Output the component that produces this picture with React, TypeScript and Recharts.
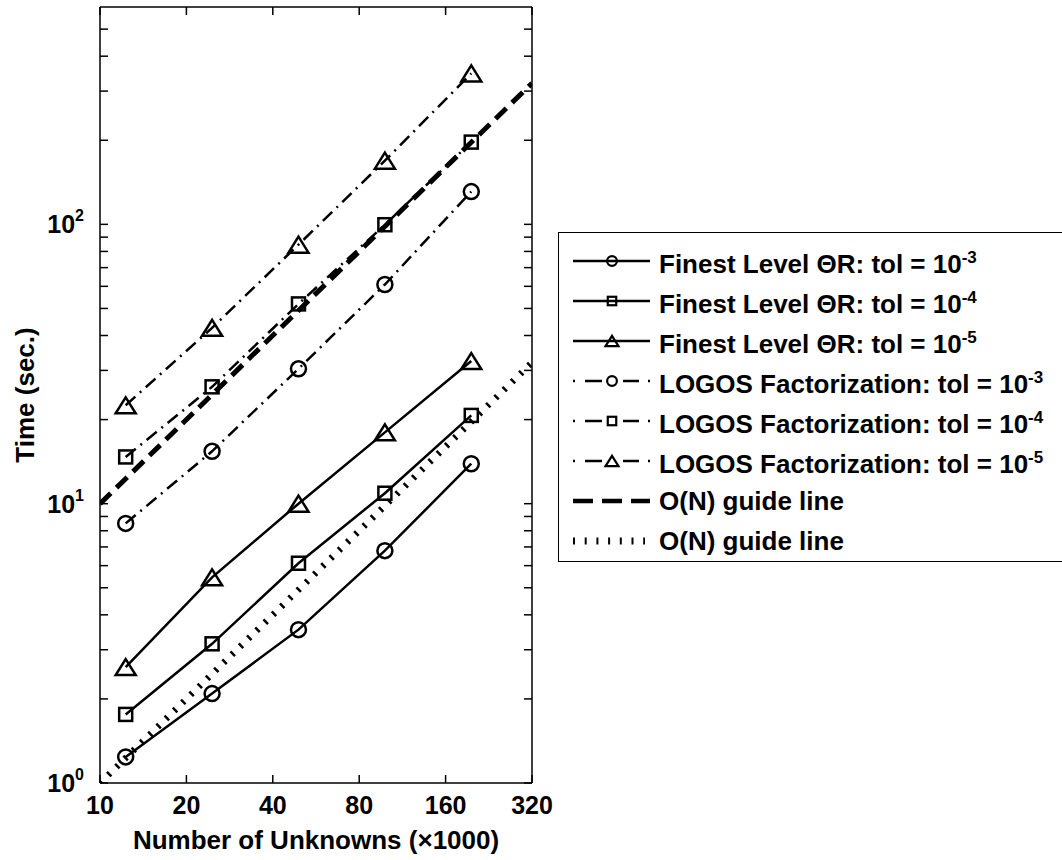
import React from "react";
import { LineChart, Line, XAxis, YAxis, Legend } from "recharts";

// problem size (x1000 unknowns)
const N = [12.288, 24.576, 49.152, 98.304, 196.608];

// times in seconds
const FINEST_TOL3 = [1.24, 2.09, 3.54, 6.79, 13.9];
const FINEST_TOL4 = [1.76, 3.15, 6.12, 10.9, 20.7];
const FINEST_TOL5 = [2.6, 5.45, 10.0, 18.0, 32.4];
const LOGOS_TOL3 = [8.5, 15.4, 30.4, 60.9, 131];
const LOGOS_TOL4 = [14.7, 26.2, 51.9, 99.7, 197];
const LOGOS_TOL5 = [22.5, 42.6, 84.6, 169, 347];

// O(N) guide lines
const GUIDE_N = [10, 320];
const GUIDE_DASHED = [10, 320];
const GUIDE_DOTTED = [1, 32];

const X_TICKS = [10, 20, 40, 80, 160, 320];
const Y_TICKS = [
  1, 2, 3, 4, 5, 6, 7, 8, 9, 10, 20, 30, 40, 50, 60, 70, 80, 90, 100, 200, 300,
  400, 500,
];
const Y_DECADES: Record<number, string> = { 1: "0", 10: "1", 100: "2" };

const FONT = '"Liberation Sans", Arial, Helvetica, sans-serif';
const INK = "#000";
const DASH_DOT = "13 6 2 6";
const LW = 2.5;

type Shape = "circle" | "square" | "triangle";

const SERIES = [
  { key: "f3", values: FINEST_TOL3, label: "Finest Level \u0398R: tol = 10", sup: "-3", shape: "circle" as Shape, dashed: false },
  { key: "f4", values: FINEST_TOL4, label: "Finest Level \u0398R: tol = 10", sup: "-4", shape: "square" as Shape, dashed: false },
  { key: "f5", values: FINEST_TOL5, label: "Finest Level \u0398R: tol = 10", sup: "-5", shape: "triangle" as Shape, dashed: false },
  { key: "l3", values: LOGOS_TOL3, label: "LOGOS Factorization: tol = 10", sup: "-3", shape: "circle" as Shape, dashed: true },
  { key: "l4", values: LOGOS_TOL4, label: "LOGOS Factorization: tol = 10", sup: "-4", shape: "square" as Shape, dashed: true },
  { key: "l5", values: LOGOS_TOL5, label: "LOGOS Factorization: tol = 10", sup: "-5", shape: "triangle" as Shape, dashed: true },
];

const rows: Record<string, number>[] = [
  ...GUIDE_N.map((n, i) => ({ n, gDash: GUIDE_DASHED[i], gDot: GUIDE_DOTTED[i] })),
  ...N.map((n, i) => {
    const r: Record<string, number> = { n };
    SERIES.forEach((s) => (r[s.key] = s.values[i]));
    return r;
  }),
].sort((a, b) => a.n - b.n);

const W = 1062;
const H = 860;
const PLOT_LEFT = 100;
const PLOT_RIGHT = 532;
const PLOT_TOP = 7;
const PLOT_BOTTOM = 783;
const TICK_LEN = 8;

function Marker({ shape, cx, cy, s = 1, sw = LW }: { shape: Shape; cx: number; cy: number; s?: number; sw?: number }) {
  const common = { fill: "none", stroke: INK, strokeWidth: sw };
  if (shape === "circle") return <circle cx={cx} cy={cy} r={7.5 * s} {...common} />;
  if (shape === "square") {
    const h = 6.5 * s;
    return <rect x={cx - h} y={cy - h} width={2 * h} height={2 * h} {...common} />;
  }
  const hw = 10 * s;
  const hh = 8 * s;
  return (
    <polygon
      points={`${cx},${cy - hh} ${cx + hw},${cy + hh} ${cx - hw},${cy + hh}`}
      {...common}
      strokeLinejoin="miter"
    />
  );
}

const dotFor = (shape: Shape, key: string) => (p: any) => {
  if (p.cx == null || p.cy == null || p.value == null)
    return <g key={`${key}-${p.index}`} />;
  return (
    <g key={`${key}-${p.index}`}>
      <Marker shape={shape} cx={p.cx} cy={p.cy} />
    </g>
  );
};

const XTickBottom = (p: any) => (
  <g>
    <line x1={p.x} y1={p.y} x2={p.x} y2={p.y - TICK_LEN} stroke={INK} strokeWidth={1.5} />
    <text x={p.x} y={p.y + 31} textAnchor="middle" fontFamily={FONT} fontWeight={700} fontSize={25} fill={INK}>
      {p.payload.value}
    </text>
  </g>
);

const XTickTop = (p: any) => (
  <line x1={p.x} y1={p.y} x2={p.x} y2={p.y + TICK_LEN} stroke={INK} strokeWidth={1.5} />
);

const YTickLeft = (p: any) => {
  const exp = Y_DECADES[p.payload.value];
  return (
    <g>
      <line x1={p.x} y1={p.y} x2={p.x + TICK_LEN} y2={p.y} stroke={INK} strokeWidth={1.5} />
      {exp !== undefined && (
        <text x={p.x - 16} y={p.y + 9} textAnchor="end" fontFamily={FONT} fontWeight={700} fontSize={25} fill={INK}>
          10
          <tspan dy={-12} fontSize={16}>
            {exp}
          </tspan>
        </text>
      )}
    </g>
  );
};

const YTickRight = (p: any) => (
  <line x1={p.x} y1={p.y} x2={p.x - TICK_LEN} y2={p.y} stroke={INK} strokeWidth={1.5} />
);

type Sample = "solid" | "dashdot" | "dashed" | "dotted";

const LEGEND_ROWS: { sample: Sample; shape?: Shape; label: string; sup?: string }[] = [
  ...SERIES.map((s) => ({
    sample: (s.dashed ? "dashdot" : "solid") as Sample,
    shape: s.shape,
    label: s.label,
    sup: s.sup,
  })),
  { sample: "dashed", label: "O(N) guide line" },
  { sample: "dotted", label: "O(N) guide line" },
];

function SampleSvg({ sample, shape }: { sample: Sample; shape?: Shape }) {
  const y = 15;
  return (
    <svg width={78} height={30} style={{ flex: "none", overflow: "visible" }}>
      {sample === "solid" && <line x1={0} y1={y} x2={77} y2={y} stroke={INK} strokeWidth={LW} />}
      {sample === "dashdot" && (
        <g stroke={INK} strokeWidth={LW}>
          <line x1={0} y1={y} x2={2} y2={y} />
          <line x1={12} y1={y} x2={29} y2={y} />
          <line x1={50} y1={y} x2={66} y2={y} />
          <line x1={75} y1={y} x2={77} y2={y} />
        </g>
      )}
      {sample === "dashed" && (
        <line x1={0} y1={y} x2={77} y2={y} stroke={INK} strokeWidth={4.5} strokeDasharray="20 9" />
      )}
      {sample === "dotted" && (
        <line x1={0} y1={y} x2={72} y2={y} stroke={INK} strokeWidth={7} strokeDasharray="2 9.7" />
      )}
      {shape && <Marker shape={shape} cx={39} cy={y} s={0.65} sw={2.2} />}
    </svg>
  );
}

const LegendBox = () => (
  <div
    style={{
      border: `1.5px solid ${INK}`,
      background: "#fff",
      boxSizing: "border-box",
      width: 520,
      height: 330,
      padding: "8px 0 0 14px",
      fontFamily: FONT,
      fontWeight: 700,
      fontSize: 26,
      color: INK,
    }}
  >
    {LEGEND_ROWS.map((r, i) => (
      <div key={i} style={{ display: "flex", alignItems: "center", height: 40, whiteSpace: "nowrap" }}>
        <SampleSvg sample={r.sample} shape={r.shape} />
        <span style={{ marginLeft: 8, lineHeight: "30px" }}>
          {r.label}
          {r.sup && <sup style={{ fontSize: 17, verticalAlign: "10px" }}>{r.sup}</sup>}
        </span>
      </div>
    ))}
  </div>
);

export default function App() {
  const axisLine = { stroke: INK, strokeWidth: 1.5 };
  return (
    <div style={{ position: "absolute", left: 0, top: 0, width: W, height: H, background: "#fff" }}>
      <LineChart
        width={W}
        height={H}
        data={rows}
        margin={{ top: 0, right: W - PLOT_RIGHT - 10, bottom: 0, left: PLOT_LEFT - 60 }}
      >
        <XAxis
          xAxisId="b"
          dataKey="n"
          type="number"
          scale="log"
          domain={[10, 320]}
          ticks={X_TICKS}
          interval={0}
          allowDataOverflow
          height={H - PLOT_BOTTOM}
          tickSize={0}
          tickMargin={0}
          tickLine={false}
          axisLine={axisLine}
          tick={<XTickBottom />}
          label={{
            content: (p: any) => {
              const vb = p.viewBox || { x: PLOT_LEFT, y: PLOT_BOTTOM, width: PLOT_RIGHT - PLOT_LEFT };
              return (
                <text
                  x={vb.x + vb.width / 2}
                  y={vb.y + 66}
                  textAnchor="middle"
                  fontFamily={FONT}
                  fontWeight={700}
                  fontSize={26}
                  fill={INK}
                >
                  Number of Unknowns ({"\u00d7"}1000)
                </text>
              );
            },
          }}
        />
        <XAxis
          xAxisId="t"
          orientation="top"
          dataKey="n"
          type="number"
          scale="log"
          domain={[10, 320]}
          ticks={X_TICKS}
          interval={0}
          allowDataOverflow
          height={PLOT_TOP}
          tickSize={0}
          tickMargin={0}
          tickLine={false}
          axisLine={axisLine}
          tick={<XTickTop />}
        />
        <YAxis
          yAxisId="l"
          type="number"
          scale="log"
          domain={[1, 600]}
          ticks={Y_TICKS}
          interval={0}
          allowDataOverflow
          width={60}
          tickSize={0}
          tickMargin={0}
          tickLine={false}
          axisLine={axisLine}
          tick={<YTickLeft />}
          label={{
            content: () => {
              const cx = 25;
              const cy = (PLOT_TOP + PLOT_BOTTOM) / 2;
              return (
                <text
                  x={cx}
                  y={cy}
                  transform={`rotate(-90, ${cx}, ${cy})`}
                  textAnchor="middle"
                  dominantBaseline="central"
                  fontFamily={FONT}
                  fontWeight={700}
                  fontSize={26}
                  fill={INK}
                >
                  Time (sec.)
                </text>
              );
            },
          }}
        />
        <YAxis
          yAxisId="r"
          orientation="right"
          type="number"
          scale="log"
          domain={[1, 600]}
          ticks={Y_TICKS}
          interval={0}
          allowDataOverflow
          width={10}
          tickSize={0}
          tickMargin={0}
          tickLine={false}
          axisLine={axisLine}
          tick={<YTickRight />}
        />
        <Line
          xAxisId="b"
          yAxisId="l"
          dataKey="gDash"
          stroke={INK}
          strokeWidth={5}
          strokeDasharray="15 8"
          dot={false}
          connectNulls
          isAnimationActive={false}
          legendType="none"
        />
        <Line
          xAxisId="b"
          yAxisId="l"
          dataKey="gDot"
          stroke={INK}
          strokeWidth={6.5}
          strokeDasharray="2.5 9"
          dot={false}
          connectNulls
          isAnimationActive={false}
          legendType="none"
        />
        {SERIES.map((s) => (
          <Line
            key={s.key}
            xAxisId="b"
            yAxisId="l"
            dataKey={s.key}
            stroke={INK}
            strokeWidth={LW}
            strokeDasharray={s.dashed ? DASH_DOT : undefined}
            dot={dotFor(s.shape, s.key)}
            activeDot={false}
            connectNulls
            isAnimationActive={false}
          />
        ))}
        <Legend
          layout="vertical"
          align="center"
          verticalAlign="middle"
          wrapperStyle={{ left: 558, top: 232, width: 520 }}
          content={() => <LegendBox />}
        />
      </LineChart>
    </div>
  );
}
